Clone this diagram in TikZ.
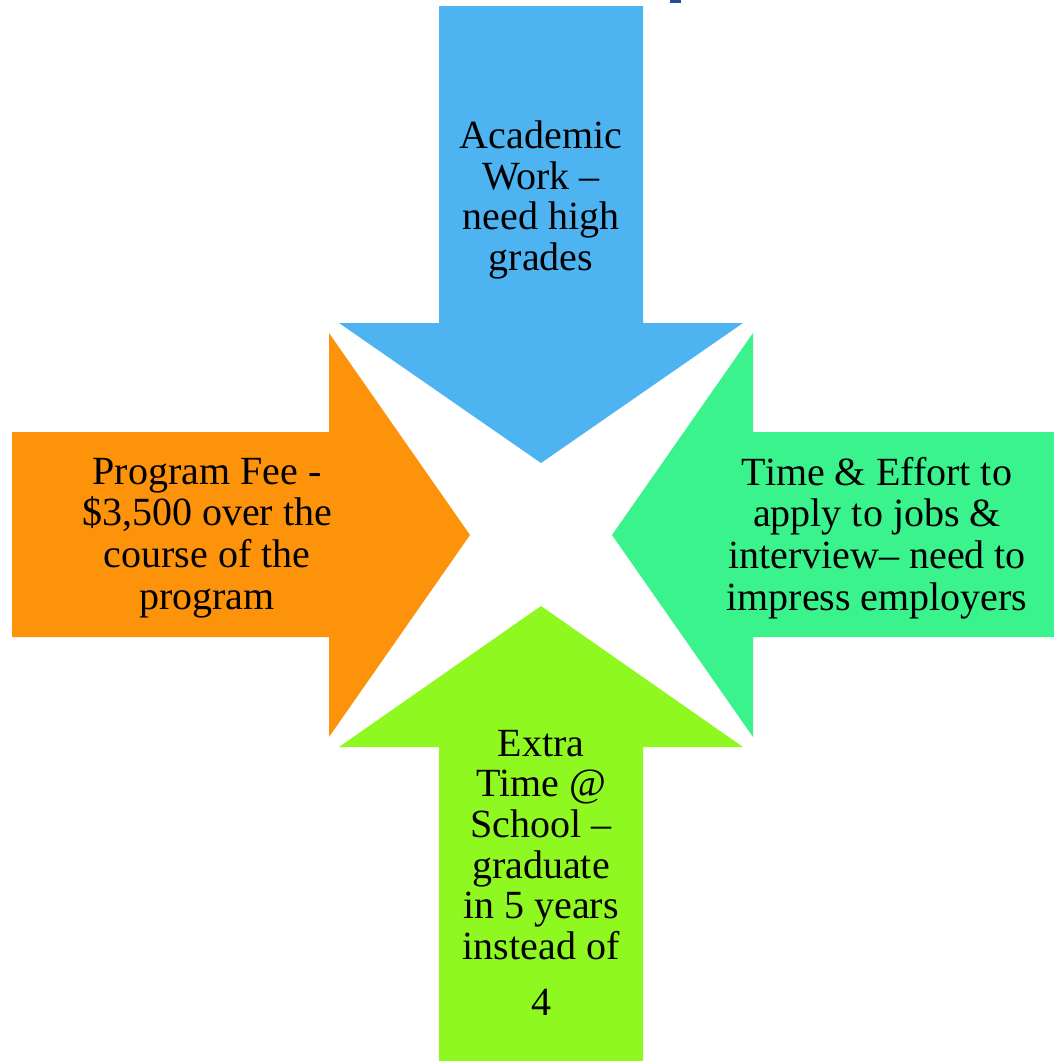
\documentclass[tikz,border=0pt]{standalone}
\usepackage{fontspec}
\setmainfont{Liberation Serif}
\definecolor{cblue}{HTML}{4DB4F1}
\definecolor{corange}{HTML}{FD930A}
\definecolor{cgreen}{HTML}{3AF38C}
\definecolor{clime}{HTML}{8FF820}
\definecolor{cmark}{HTML}{1F4F9C}
\begin{document}
\begin{tikzpicture}[x=1pt,y=-1pt,
  lbl/.style={align=center,inner sep=0pt,font=\fontsize{40}{40.7}\selectfont},
  lblwide/.style={align=center,inner sep=0pt,font=\fontsize{40}{41.7}\selectfont}]
\useasboundingbox (0,0) rectangle (1054,1061);
% top mark
\fill[cmark] (670,0) rectangle (681,2.5);
% blue down arrow
\fill[cblue] (439,6) -- (643,6) -- (643,323) -- (743,323) -- (541,463) -- (339,323) -- (439,323) -- cycle;
% orange right arrow
\fill[corange] (12,432) -- (329,432) -- (329,333) -- (470,535) -- (329,737) -- (329,637) -- (12,637) -- cycle;
% green left arrow
\fill[cgreen] (1054,432) -- (753,432) -- (753,333) -- (612,535) -- (753,737) -- (753,637) -- (1054,637) -- cycle;
% lime up arrow
\fill[clime] (439,1061) -- (643,1061) -- (643,747) -- (743,747) -- (541,606) -- (339,747) -- (439,747) -- cycle;
% labels
\node[lbl] (tblue) at (541,200) {Academic\\Work --\\need high\\grades};
\node[lblwide] (torange) at (207,538) {Program Fee -\\\$3,500 over the\\course of the\\program};
\node[lblwide] (tgreen) at (877,538) {Time \& Effort to\\apply to jobs \&\\interview-- need to\\impress employers};
\node[lbl] (tlime) at (541,845) {Extra\\Time @\\School --\\graduate\\in 5 years\\instead of};
\node[lbl] (tfour) at (541,1002) {4};
\end{tikzpicture}
\end{document}
